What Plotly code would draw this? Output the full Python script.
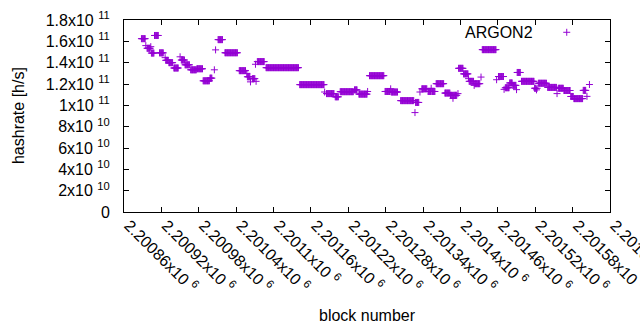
import plotly.graph_objects as go

# Runs of consecutive blocks sharing the same hashrate estimate
run_start = [2200888, 2200895, 2200897, 2200903, 2200904, 2200909, 2200917, 2200926, 2200927, 2200932,
             2200940, 2200950, 2200952, 2200958, 2200967, 2200977, 2200987, 2200998, 2201005, 2201007,
             2201011, 2201022, 2201045, 2201057, 2201058, 2201063, 2201066, 2201071, 2201072, 2201074,
             2201088, 2201142, 2201182, 2201185, 2201199, 2201207, 2201230, 2201237, 2201251, 2201254,
             2201279, 2201288, 2201289, 2201304, 2201327, 2201328, 2201335, 2201338, 2201348, 2201353,
             2201354, 2201361, 2201375, 2201384, 2201388, 2201389, 2201396, 2201397, 2201405, 2201413,
             2201414, 2201422, 2201423, 2201433, 2201435, 2201458, 2201461, 2201470, 2201472, 2201479,
             2201484, 2201490, 2201491, 2201498, 2201519, 2201522, 2201523, 2201525, 2201540, 2201555,
             2201557, 2201566, 2201577, 2201582, 2201597, 2201603, 2201607]
run_end = [2200894, 2200895, 2200902, 2200903, 2200908, 2200915, 2200923, 2200926, 2200931, 2200938,
           2200947, 2200950, 2200957, 2200965, 2200976, 2200986, 2200997, 2201001, 2201005, 2201007,
           2201018, 2201042, 2201055, 2201057, 2201062, 2201063, 2201070, 2201071, 2201072, 2201085,
           2201140, 2201181, 2201182, 2201197, 2201204, 2201228, 2201234, 2201250, 2201251, 2201277,
           2201287, 2201288, 2201299, 2201325, 2201327, 2201333, 2201335, 2201346, 2201352, 2201353,
           2201359, 2201373, 2201383, 2201387, 2201388, 2201394, 2201396, 2201404, 2201412, 2201413,
           2201421, 2201422, 2201431, 2201433, 2201457, 2201458, 2201469, 2201470, 2201478, 2201483,
           2201489, 2201490, 2201496, 2201518, 2201521, 2201522, 2201523, 2201538, 2201554, 2201555,
           2201565, 2201576, 2201581, 2201596, 2201601, 2201603, 2201607]
run_value = [16.25e10, 15.6e10, 15.35e10, 15.5e10, 14.9e10, 16.55e10, 14.92e10, 14.47e10, 14.22e10, 14.0e10,
             13.5e10, 14.55e10, 14.25e10, 13.8e10, 13.33e10, 13.43e10, 12.3e10, 12.55e10, 13.33e10, 15.2e10,
             16.16e10, 14.93e10, 13.25e10, 13.0e10, 12.68e10, 12.2e10, 12.5e10, 13.85e10, 12.25e10, 14.1e10,
             13.53e10, 11.94e10, 11.25e10, 11.1e10, 10.8e10, 11.28e10, 11.45e10, 11.05e10, 11.3e10, 12.78e10,
             11.3e10, 11.55e10, 11.25e10, 10.44e10, 9.32e10, 10.27e10, 11.25e10, 11.55e10, 11.3e10, 11.6e10,
             11.3e10, 12.03e10, 11.15e10, 10.94e10, 10.66e10, 10.94e10, 11.1e10, 13.47e10, 12.95e10, 12.5e10,
             12.25e10, 11.87e10, 12.03e10, 12.65e10, 15.22e10, 12.4e10, 12.7e10, 11.5e10, 11.65e10, 12.1e10,
             11.87e10, 11.47e10, 13.08e10, 12.25e10, 11.6e10, 11.45e10, 11.6e10, 12.07e10, 11.68e10, 11.1e10,
             11.6e10, 11.39e10, 10.83e10, 10.63e10, 11.4e10, 10.84e10, 11.95e10]

x_tickvals = [2200860, 2200920, 2200980, 2201040, 2201100, 2201160, 2201220,
              2201280, 2201340, 2201400, 2201460, 2201520, 2201580, 2201640]
x_ticktext = ["2.20086", "2.20092", "2.20098", "2.20104", "2.2011", "2.20116", "2.20122",
              "2.20128", "2.20134", "2.2014", "2.20146", "2.20152", "2.20158", "2.20164"]
y_tickvals = [0, 2e10, 4e10, 6e10, 8e10, 1e11, 1.2e11, 1.4e11, 1.6e11, 1.8e11]
y_ticktext = ["0", "2x10", "4x10", "6x10", "8x10", "1x10", "1.2x10", "1.4x10", "1.6x10", "1.8x10"]
y_exp = ["", "10", "10", "10", "10", "11", "11", "11", "11", "11"]

series_name = "ARGON2"
color = "#9400D3"

blocks, hashrate = [], []
for s, e, v in zip(run_start, run_end, run_value):
    for b in range(s, e + 1):
        blocks.append(b)
        hashrate.append(v)

fig = go.Figure()
fig.add_trace(go.Scatter(
    x=blocks, y=hashrate, mode="markers", name=series_name, showlegend=False,
    marker=dict(symbol="cross-thin", size=5, color=color, line=dict(color=color, width=1)),
))

font = "Liberation Sans, Arial, sans-serif"
yt = [t + (" <sup>" + e + "</sup>" if e else "") for t, e in zip(y_ticktext, y_exp)]
xt = [t + "x10 <sup>6</sup>" for t in x_ticktext]

fig.update_layout(
    width=640, height=330,
    margin=dict(l=124, r=30, t=20, b=118, autoexpand=False),
    paper_bgcolor="white", plot_bgcolor="white",
    font=dict(family=font, size=16, color="black"),
    xaxis=dict(range=[2200860, 2201640], tickvals=x_tickvals, ticktext=xt, tickangle=45,
               ticks="inside", ticklen=5, tickcolor="black", showgrid=False, zeroline=False,
               showline=True, linecolor="black", linewidth=1, mirror="ticks", automargin=False,
               ticklabeloverflow="allow", tickfont=dict(size=16),
               ticklabelshift=5, ticklabelstandoff=-3),
    yaxis=dict(range=[0, 1.8e11], tickvals=y_tickvals, ticktext=yt, automargin=False,
               ticks="inside", ticklen=5, tickcolor="black", showgrid=False, zeroline=False,
               showline=True, linecolor="black", linewidth=1, mirror="ticks",
               tickfont=dict(size=16), ticklabelstandoff=10),
    annotations=[
        dict(text="block number", xref="paper", yref="paper", x=0.5, y=-0.54,
             xanchor="center", yanchor="middle", showarrow=False, font=dict(size=16)),
        dict(text="hashrate [h/s]", xref="paper", yref="paper", x=-0.218, y=0.5,
             xanchor="center", yanchor="middle", showarrow=False, textangle=-90, font=dict(size=16)),
        dict(text=series_name, xref="paper", yref="paper", x=0.846, y=0.936,
             xanchor="right", yanchor="middle", showarrow=False, font=dict(size=16)),
    ],
    shapes=[
        dict(type="line", xref="paper", yref="paper", xsizemode="pixel", xanchor=0.911,
             x0=-3.5, x1=3.5, y0=0.936, y1=0.936, line=dict(color=color, width=1)),
        dict(type="line", xref="paper", yref="paper", ysizemode="pixel", yanchor=0.936,
             y0=-3.5, y1=3.5, x0=0.911, x1=0.911, line=dict(color=color, width=1)),
    ],
)

fig.write_html("out.html", config={"displayModeBar": False},
               post_script="document.body.style.margin='0';")
